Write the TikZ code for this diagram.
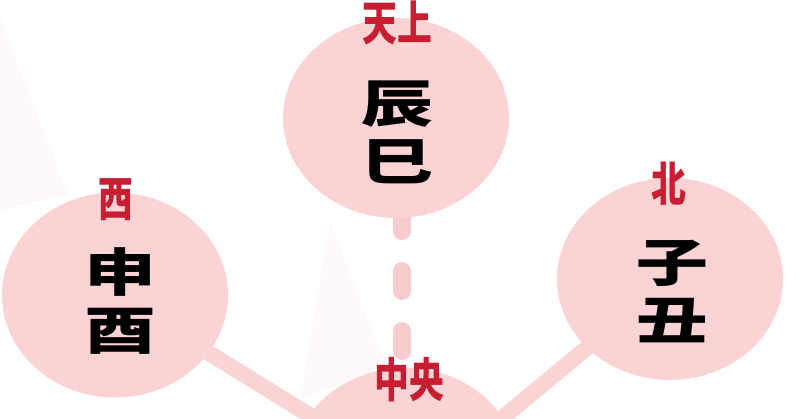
\documentclass[tikz,border=0pt]{standalone}
\usepackage{fontspec}
\newfontfamily\cjk{Noto Sans CJK JP}
\usetikzlibrary{shapes.geometric}
\definecolor{blobpink}{RGB}{251,211,212}
\definecolor{linkpink}{RGB}{250,212,213}
\definecolor{dashpink}{RGB}{248,204,206}
\definecolor{faint}{RGB}{254,248,248}
\definecolor{labelred}{RGB}{200,30,50}
\pgfdeclarelayer{bg}
\pgfsetlayers{bg,main}
\tikzset{
  blob/.style={ellipse, fill=blobpink, draw=none, inner sep=0pt,
    minimum width=226pt, minimum height=200pt},
  branch/.style={bigtext, font=\cjk\bfseries\fontsize{54}{58}\selectfont, text=black},
  bigtext/.style={inner sep=0pt, align=center},
  dirlabel/.style={inner sep=0pt, font=\cjk\bfseries\fontsize{47}{50}\selectfont, text=labelred},
  link/.style={line width=16pt, draw=linkpink},
  dashlink/.style={line width=18pt, draw=dashpink, line cap=round,
    dash pattern=on 20pt off 40pt, dash phase=27pt}
}
\newcommand{\wide}[1]{\scalebox{1.33}[0.95]{\begin{tabular}{@{}c@{}}#1\end{tabular}}}
\newcommand{\narrow}[1]{\scalebox{0.74}[1]{#1}}
\begin{document}
\begin{tikzpicture}[x=1pt,y=-1pt]
\useasboundingbox (0,0) rectangle (800,419);
% circles
\node[blob] (T) at (396,118) {};
\node[blob, minimum height=205pt] (L) at (115,295) {};
\node[blob, minimum height=202pt] (R) at (670,279) {};
\node[blob] (B) at (405,468) {};
% connectors behind
\begin{pgfonlayer}{bg}
  \fill[faint] (0,18) -- (68,195) -- (0,210) -- cycle;
  \fill[faint] (330,222) -- (385,365) -- (300,400) -- cycle;
  \draw[link] (L.center) -- ([xshift=-10pt]B.center);
  \draw[link] (R.center) -- ([xshift=37pt]B.center);
  \draw[dashlink] ([xshift=6pt]T.center) -- ([xshift=-3pt]B.center);
\end{pgfonlayer}
% branch texts
\node[branch] (tT) at (397,139) {\wide{辰\\巳}};
\node[branch] (tL) at (120,307) {\wide{申\\酉}};
\node[branch] (tR) at (672,298) {\wide{子\\丑}};
% direction labels
\node[dirlabel] (dT) at (397,23) {\narrow{天上}};
\node[dirlabel] (dL) at (116,200) {\narrow{西}};
\node[dirlabel] (dR) at (669,184) {\narrow{北}};
\node[dirlabel] (dB) at (409,380) {\narrow{中央}};
\end{tikzpicture}
\end{document}
